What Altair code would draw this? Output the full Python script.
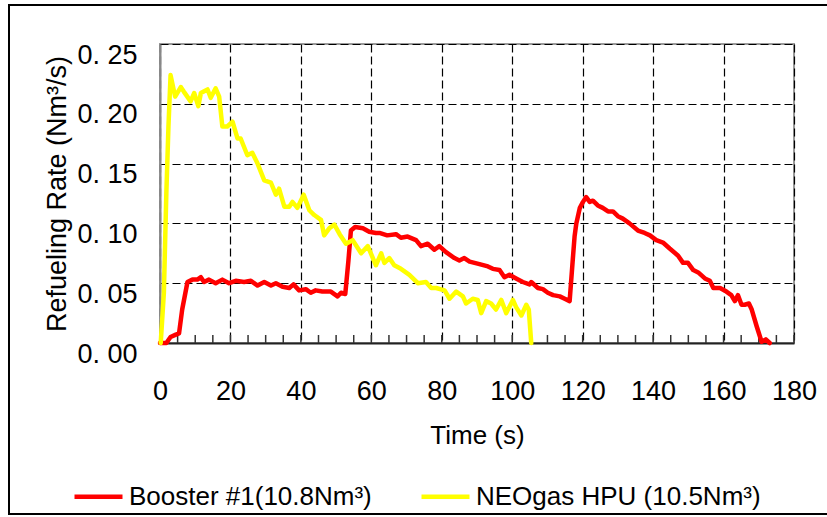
import altair as alt
import pandas as pd

# ---------------- data ----------------
BOOSTER = "Booster #1(10.8Nm³)"
NEOGAS = "NEOgas HPU (10.5Nm³)"

booster_t = [0, 1.8, 3.0, 4.5, 5.4, 6.3, 7.8, 9.2, 10.6, 11.6, 12.5, 13.9, 15.8, 17.7, 19.6,
             21.5, 23.9, 25.8, 27.7, 29.6, 31.5, 32.9, 34.8, 36.7, 37.9, 39.5, 41.4, 42.8, 44.2,
             46.1, 48.5, 50.4, 51.4, 52.6, 53.5, 54.2, 55.4, 57.6, 59.4, 61.3, 62.3, 64.5, 67.0,
             68.4, 70.3, 72.7, 74.1, 76.0, 77.9, 79.3, 81.2, 83.6, 85.0, 86.4, 87.9, 90.7, 93.1,
             94.5, 96.4, 97.8, 99.2, 101.1, 103.0, 104.9, 105.4, 107.3, 108.7, 110.1, 111.6,
             113.5, 114.9, 116.3, 117.2, 117.7, 118.2, 119.2, 120.1, 121.0, 122.0, 122.9, 124.3,
             125.7, 127.2, 128.6, 130.0, 131.4, 133.3, 135.7, 137.6, 139.1, 140.9, 142.8, 144.7,
             147.1, 148.5, 149.9, 151.4, 152.8, 154.7, 156.1, 157.1, 159.0, 160.8, 162.2, 163.2,
             164.1, 165.1, 166.0, 167.2, 168.0, 169.4, 170.8, 172.0, 173.1]
booster_rate = [0, 0, 0.005, 0.007, 0.008, 0.028, 0.051, 0.053, 0.053, 0.055, 0.051, 0.053, 0.050,
                0.053, 0.050, 0.052, 0.051, 0.052, 0.048, 0.051, 0.048, 0.050, 0.047, 0.046, 0.049,
                0.044, 0.045, 0.042, 0.044, 0.043, 0.043, 0.039, 0.042, 0.041, 0.069, 0.094, 0.097,
                0.096, 0.093, 0.092, 0.092, 0.090, 0.091, 0.088, 0.089, 0.086, 0.081, 0.083, 0.078,
                0.081, 0.076, 0.071, 0.069, 0.071, 0.068, 0.066, 0.064, 0.062, 0.061, 0.055, 0.057,
                0.054, 0.051, 0.049, 0.051, 0.046, 0.045, 0.042, 0.040, 0.039, 0.037, 0.035, 0.070,
                0.089, 0.100, 0.113, 0.118, 0.122, 0.118, 0.119, 0.115, 0.113, 0.110, 0.110, 0.106,
                0.104, 0.100, 0.094, 0.092, 0.090, 0.086, 0.084, 0.079, 0.073, 0.067, 0.067, 0.061,
                0.059, 0.054, 0.052, 0.046, 0.046, 0.043, 0.040, 0.035, 0.040, 0.032, 0.032, 0.033,
                0.028, 0.014, 0.001, 0.003, 0]

neogas_t = [0.2, 1.1, 1.8, 2.4, 3.0, 4.3, 5.9, 6.8, 8.7, 9.7, 10.9, 11.6, 13.5, 14.4, 15.8, 16.8,
            17.7, 19.1, 20.6, 22.0, 22.9, 24.8, 26.2, 27.7, 29.6, 31.5, 32.9, 33.8, 35.3, 36.7,
            37.6, 39.0, 40.8, 42.4, 43.8, 45.7, 46.6, 48.1, 49.5, 51.0, 52.8, 54.7, 57.1, 59.0,
            61.3, 62.8, 63.7, 65.1, 66.5, 68.4, 70.8, 73.2, 75.5, 77.0, 78.4, 80.8, 82.2, 84.1,
            86.0, 86.9, 88.8, 90.2, 91.2, 92.6, 94.0, 95.4, 96.9, 98.3, 100.2, 101.1, 102.6,
            104.0, 104.7, 105.4]
neogas_rate = [0, 0.042, 0.125, 0.181, 0.224, 0.206, 0.214, 0.210, 0.202, 0.209, 0.198, 0.209,
               0.212, 0.205, 0.213, 0.206, 0.181, 0.181, 0.185, 0.171, 0.171, 0.157, 0.159, 0.150,
               0.136, 0.134, 0.124, 0.129, 0.114, 0.114, 0.118, 0.113, 0.124, 0.111, 0.107, 0.103,
               0.090, 0.096, 0.099, 0.091, 0.083, 0.086, 0.075, 0.081, 0.065, 0.075, 0.067, 0.071,
               0.065, 0.062, 0.057, 0.050, 0.051, 0.046, 0.046, 0.044, 0.037, 0.043, 0.039, 0.033,
               0.037, 0.036, 0.025, 0.035, 0.033, 0.028, 0.036, 0.025, 0.036, 0.030, 0.023, 0.032,
               0.028, 0.0]

x_major = [0, 20, 40, 60, 80, 100, 120, 140, 160, 180]
x_minor = list(range(0, 181, 5))
y_major = [0.0, 0.05, 0.10, 0.15, 0.20, 0.25]

# ---------------- frames ----------------
booster_df = pd.DataFrame({"t": booster_t, "rate": booster_rate, "series": BOOSTER})
neogas_df = pd.DataFrame({"t": neogas_t, "rate": neogas_rate, "series": NEOGAS})
minor_df = pd.DataFrame({"t": x_minor})

W, H = 634, 299
FONT = "Liberation Sans"

x_scale = alt.Scale(domain=[0, 180], nice=False, zero=False)
y_scale = alt.Scale(domain=[0, 0.25], nice=False)

x_axis = alt.Axis(
    values=x_major, format="d", title="Time (s)",
    labelFont=FONT, labelFontSize=27, labelColor="black", labelPadding=35,
    labelFlush=False, labelOverlap=False, labelBound=False, ticks=False,
    domainColor="#222222", domainWidth=2,
    grid=True, gridColor="black", gridDash=[8, 4], gridWidth=1.2,
    titleFont=FONT, titleFontSize=26, titleFontWeight="normal", titleColor="black",
    titleX=317, titleY=92, titleAlign="center", titleBaseline="middle",
)
y_axis = alt.Axis(
    values=y_major, title="Refueling Rate (Nm³/s)",
    labelExpr="replace(format(datum.value, '.2f'), '.', '. ')",
    labelFont=FONT, labelFontSize=27, labelColor="black", labelPadding=23,
    labelOffset=11, labelOverlap=False, labelBound=False, ticks=False,
    domainColor="#888888", domainWidth=2,
    grid=True, gridColor="black", gridDash=[8, 4], gridWidth=1.2,
    titleFont=FONT, titleFontSize=27, titleFontWeight="normal", titleColor="black",
    titleX=-103, titleY=149.5, titleAngle=270, titleAlign="center", titleBaseline="middle",
)

X = alt.X("t:Q", scale=x_scale, axis=x_axis)
Y = alt.Y("rate:Q", scale=y_scale, axis=y_axis)

color = alt.Color(
    "series:N",
    scale=alt.Scale(domain=[BOOSTER, NEOGAS], range=["#ff0000", "#ffff00"]),
    legend=alt.Legend(
        title=None, orient="none", legendX=-88, legendY=426, direction="horizontal",
        columns=2, symbolType="stroke", symbolSize=2304, symbolStrokeWidth=4.5,
        labelFont=FONT, labelFontSize=26, labelColor="black", labelOffset=4,
        columnPadding=40, padding=0, labelLimit=400,
    ),
)

line_style = dict(strokeWidth=4.5, strokeJoin="round", strokeCap="round")
red = alt.Chart(booster_df).mark_line(**line_style).encode(x=X, y=Y, color=color)
yellow = alt.Chart(neogas_df).mark_line(**line_style).encode(x=X, y=Y, color=color)

ticks = alt.Chart(minor_df).mark_rule(color="#333333", strokeWidth=1.5).encode(
    x=X, y=alt.value(H), y2=alt.value(H - 8))

border = alt.Chart(minor_df).mark_rect(filled=False, stroke="black", strokeWidth=1.5).encode(
    x=alt.value(-151), x2=alt.value(700), y=alt.value(-39), y2=alt.value(470))

chart = alt.layer(ticks, red, yellow, border).properties(
    width=W, height=H,
    autosize=alt.AutoSizeParams(type="none"),
    padding={"left": 160, "top": 44, "right": 33, "bottom": 174},
    background="white",
).configure_view(stroke="#999999", strokeWidth=2)

chart.save("out.html", embed_options={"renderer": "svg", "actions": False})
